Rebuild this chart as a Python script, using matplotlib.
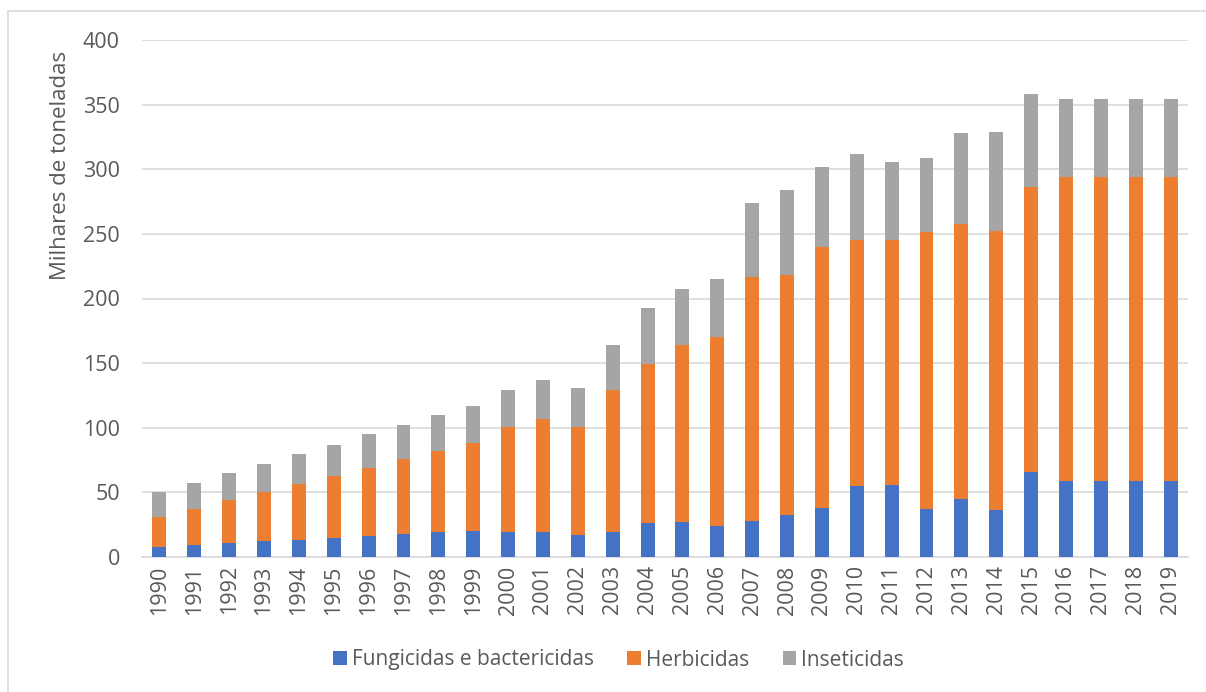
import numpy as np
import matplotlib
matplotlib.use('Agg')
from matplotlib import pyplot as plt
from matplotlib.patches import Rectangle

years = [str(y) for y in range(1990, 2020)]

# cumulative tops
fung = [8, 9.5, 11, 12.5, 13.5, 15, 16, 17.5, 19, 20,
        19, 19, 17, 19.5, 26, 27, 24, 27.5, 32.5, 38,
        55, 56, 37, 44.5, 36, 66, 58.5, 58.5, 58.5, 58.5]
herb_top = [31, 37, 44, 50.5, 56.5, 63, 69, 75.5, 82, 88,
            100.5, 106.5, 100.5, 129.5, 149.5, 164, 170, 216.5, 218.5, 240,
            245, 245, 251.5, 257.5, 252, 286, 294, 294, 294, 294]
total = [50, 57, 65, 72, 79.5, 87, 95, 102, 110, 117,
         129.5, 137, 130.5, 164, 193, 207.5, 215, 274, 284, 301.5,
         311.5, 305.5, 309, 328, 329, 358, 354, 354, 354, 354]

fung = np.array(fung)
herb = np.array(herb_top) - fung
inset = np.array(total) - np.array(herb_top)

plt.rcParams['font.family'] = ['Open Sans', 'DejaVu Sans']
txt = '#595959'

fig = plt.figure(figsize=(12.06, 6.92), dpi=100)
ax = fig.add_axes([142/1206, 1 - 557/692, (1188 - 142)/1206, (557 - 40)/692])

x = np.arange(len(years))
w = 0.4
ax.bar(x, fung, w, color='#4472c4', label='Fungicidas e bactericidas', zorder=3)
ax.bar(x, herb, w, bottom=fung, color='#ed7d31', label='Herbicidas', zorder=3)
ax.bar(x, inset, w, bottom=fung + herb, color='#a5a5a5', label='Inseticidas', zorder=3)

ax.set_xlim(-0.5, len(years) - 0.5)
ax.set_ylim(0, 400)
ax.set_yticks(range(0, 401, 50))
ax.set_xticks(x)
ax.set_xticklabels(years, rotation=90)
ax.tick_params(length=0, labelsize=15.5, colors=txt)
ax.tick_params(axis='x', pad=6)
ax.tick_params(axis='y', pad=16)
ax.grid(axis='y', color='#d9d9d9', linewidth=1.2, zorder=0)
for s in ['top', 'right', 'left']:
    ax.spines[s].set_visible(False)
ax.spines['bottom'].set_color('#d9d9d9')
ax.spines['bottom'].set_linewidth(1.2)

# axis title sits high, like the Excel original
fig.text(60/1206, 1 - 165/692, 'Milhares de toneladas', rotation=90,
         ha='center', va='center', fontsize=16, color=txt)

fig.legend(loc='center', bbox_to_anchor=(0.513, 1 - 660/692), ncol=3, frameon=False,
           fontsize=15, labelcolor=txt, handlelength=0.65, handleheight=0.65,
           handletextpad=0.25, columnspacing=1.6)

fig.patches.append(Rectangle((8/1206, -0.05), 1.1, 1 - 11/692 + 0.05,
                             transform=fig.transFigure, fill=False,
                             edgecolor='#d9d9d9', linewidth=1.2))

plt.savefig('out.png', dpi=100)
